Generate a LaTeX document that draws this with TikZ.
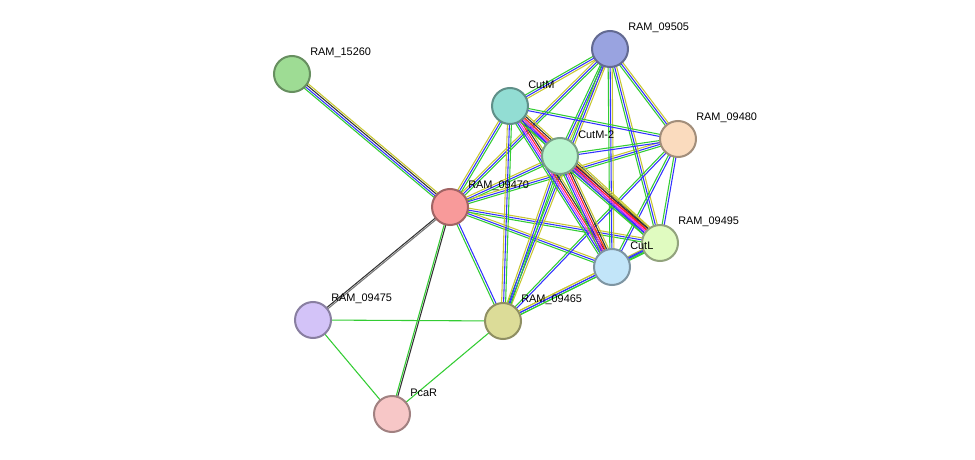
\documentclass[tikz,border=0pt]{standalone}
\usepackage{fontspec}
\setmainfont{Liberation Sans}
\usetikzlibrary{calc}
\definecolor{eg}{HTML}{33CC33}
\definecolor{eb}{HTML}{3333FF}
\definecolor{ey}{HTML}{C8C832}
\definecolor{em}{HTML}{EE33EE}
\definecolor{er}{HTML}{FF2222}
\definecolor{ek}{HTML}{333333}
\definecolor{ekl}{HTML}{777777}
\definecolor{c1}{HTML}{9EDC94}
\definecolor{c2}{HTML}{99A3E0}
\definecolor{c3}{HTML}{92DDD3}
\definecolor{c4}{HTML}{FADBBE}
\definecolor{c5}{HTML}{BAF6D0}
\definecolor{c6}{HTML}{F89A9A}
\definecolor{c7}{HTML}{E0FBC0}
\definecolor{c8}{HTML}{C2E5F9}
\definecolor{c9}{HTML}{DCDC98}
\definecolor{c10}{HTML}{D3C3F8}
\definecolor{c11}{HTML}{F7C7C7}
\newcommand{\myedge}[3]{\edef\mylist{#3}\foreach \c/\o in \mylist{\draw[\c,line width=0.8pt] ($(#1)!\o pt!90:(#2)$) -- ($(#2)!\o pt!-90:(#1)$);}}
\tikzset{prot/.style={circle,minimum size=27pt,inner sep=0pt,line width=1.5pt},
lab/.style={anchor=west,font=\fontsize{8.2pt}{9pt}\selectfont,inner sep=0pt}}
\begin{document}
\begin{tikzpicture}[x=0.75pt,y=-0.75pt]
\useasboundingbox (0,0) rectangle (975,460);
\coordinate (p15260) at (292,74);
\coordinate (p09505) at (610,49);
\coordinate (pCutM) at (510,106);
\coordinate (p09480) at (678,139);
\coordinate (pCutM2) at (560,156);
\coordinate (p09470) at (450,207);
\coordinate (p09495) at (660,243);
\coordinate (pCutL) at (612,267);
\coordinate (p09465) at (503,321);
\coordinate (p09475) at (313,320);
\coordinate (pPcaR) at (392,414);
\def\gby{eg/-1.5,eb/0,ey/1.5}
\def\gb{eg/-0.8,eb/0.8}
\myedge{p15260}{p09470}{eg/-2.2,eb/-0.8,ek/0.8,ey/2.2}
\myedge{p09470}{p09475}{ek/-0.6,ekl/0.6}
\myedge{p09470}{pPcaR}{eg/-0.6,ek/0.6}
\myedge{p09475}{p09465}{eg/0}
\myedge{p09475}{pPcaR}{eg/0}
\myedge{p09465}{pPcaR}{eg/0}
\myedge{p09470}{p09465}{\gb}
\foreach \t in {pCutM,pCutM2,p09505,pCutL,p09495,p09480}{\myedge{p09470}{\t}{\gby}}
\foreach \t in {pCutM,pCutM2,p09480,p09495,pCutL,p09465}{\myedge{p09505}{\t}{\gby}}
\foreach \t in {pCutM,pCutM2,pCutL,p09495}{\myedge{p09465}{\t}{\gby}}
\foreach \t in {pCutM,pCutM2,pCutL,p09495,p09465}{\myedge{p09480}{\t}{\gb}}
\myedge{pCutL}{p09495}{\gb}
\myedge{pCutM}{pCutM2}{\gby}
\def\rich{eg/-3.5,eb/-2.1,em/-0.7,er/0.7,ek/2.1,ey/3.5}
\myedge{pCutM}{pCutL}{\rich}
\myedge{pCutM}{p09495}{\rich}
\myedge{pCutM2}{pCutL}{\rich}
\myedge{pCutM2}{p09495}{\rich}
\foreach \n/\c/\t in {15260/c1/RAM\_15260,09505/c2/RAM\_09505,CutM/c3/CutM,09480/c4/RAM\_09480,CutM2/c5/CutM-2,09470/c6/RAM\_09470,09495/c7/RAM\_09495,CutL/c8/CutL,09465/c9/RAM\_09465,09475/c10/RAM\_09475,PcaR/c11/PcaR}{
\node[prot,fill=\c,draw=\c!65!black] (n\n) at (p\n) {};
\node[lab] (l\n) at ($(p\n)+(18,-21)$) {\t};
}
\end{tikzpicture}
\end{document}
